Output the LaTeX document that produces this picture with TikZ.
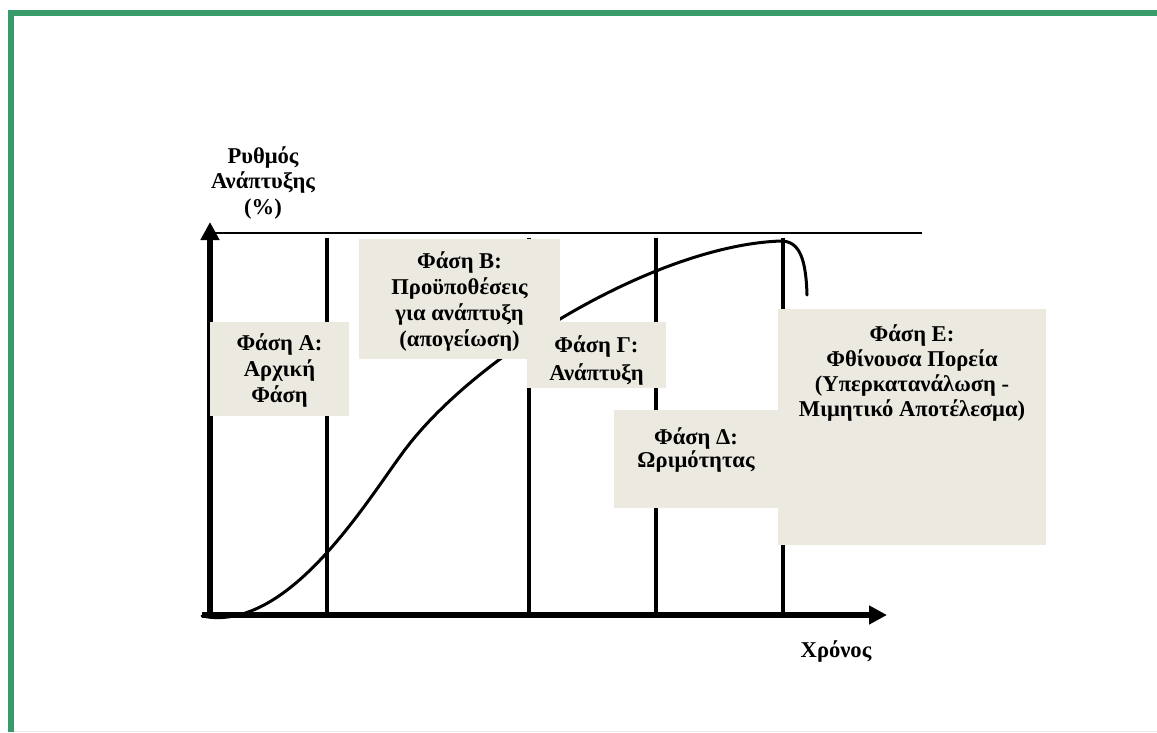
\documentclass[tikz,border=0pt]{standalone}
\usepackage{fontspec}
\setmainfont{Liberation Serif}
\usetikzlibrary{arrows.meta}
\definecolor{framegreen}{RGB}{58,155,106}
\definecolor{boxfill}{RGB}{236,234,224}
\tikzset{
  frameline/.style={framegreen, line width=6pt},
  axisline/.style={black, line width=5.5pt, -{Triangle[length=18pt,width=18pt]}},
  phaseline/.style={black, line width=3.2pt},
  curveline/.style={black, line width=3pt, line cap=round},
  phasebox/.style={fill=boxfill, draw=none, inner sep=0pt, outer sep=0pt, anchor=north west},
  txt/.style={inner sep=0pt, anchor=base, font=\bfseries\fontsize{22.6}{#1}\selectfont},
  txt/.default=26
}
\begin{document}
\begin{tikzpicture}[x=1pt,y=-1pt]
\useasboundingbox (0,0) rectangle (1157,732);
% frame
\coordinate (fTL) at (8,13);
\coordinate (fTR) at (1157,13);
\coordinate (fL1) at (11,10);
\coordinate (fL2) at (11,732);
\draw[frameline] (fTL) -- (fTR);
\draw[frameline] (fL1) -- (fL2);
\coordinate (bL) at (14,731);
\coordinate (bR) at (1157,731);
\draw[black!8, line width=1pt] (bL) -- (bR);
% top thin line
\coordinate (tl1) at (213,233);
\coordinate (tl2) at (922,233);
\draw[black, line width=1.5pt] (tl1) -- (tl2);
% phase lines
\foreach \x/\n in {327/a,529/b,656/c,783/d}{
  \coordinate (v\n top) at (\x,238);
  \coordinate (v\n bot) at (\x,615);
  \draw[phaseline] (v\n top) -- (v\n bot);
}
% curve
\coordinate (c0) at (202,616);
\coordinate (c1) at (407,447);
\coordinate (c2) at (781,241);
\coordinate (c3) at (807,295);
\draw[curveline] (c0) .. controls (290,634) and (370,495) .. (c1)
  .. controls (481,351) and (660,245) .. (c2)
  .. controls (800,241) and (806,260) .. (c3);
% axes
\coordinate (oy) at (210,617);
\coordinate (ty) at (210,222);
\coordinate (ox) at (202,615);
\coordinate (tx) at (887,615);
\draw[axisline] (oy) -- (ty);
\draw[axisline] (ox) -- (tx);
% boxes
\node[phasebox, minimum width=139pt, minimum height=94pt] (boxA) at (210,322) {};
\node[phasebox, minimum width=201pt, minimum height=120pt] (boxB) at (359,239) {};
\node[phasebox, minimum width=139pt, minimum height=66pt] (boxG) at (527,322) {};
\node[phasebox, minimum width=164pt, minimum height=98pt] (boxD) at (614,410) {};
\node[phasebox, minimum width=268pt, minimum height=236pt] (boxE) at (778,309) {};
% texts
\node[txt] (tA) at (279.5,350) {\parbox[t]{139pt}{\centering Φάση Α:\\ Αρχική\\ Φάση}};
\node[txt] (tB) at (459.5,268) {\parbox[t]{201pt}{\centering Φάση Β:\\ Προϋποθέσεις\\ για ανάπτυξη\\ (απογείωση)}};
\node[txt=28] (tG) at (596.5,352) {\parbox[t]{139pt}{\centering Φάση Γ:\\ Ανάπτυξη}};
\node[txt=23] (tD) at (696,444) {\parbox[t]{164pt}{\centering Φάση Δ:\\ Ωριμότητας}};
\node[txt=25] (tE) at (912,341) {\parbox[t]{268pt}{\centering Φάση Ε:\\ Φθίνουσα Πορεία\\ (Υπερκατανάλωση -\\ Μιμητικό Αποτέλεσμα)}};
\node[txt=25.5] (ylab) at (263,163) {\parbox[t]{150pt}{\centering Ρυθμός\\ Ανάπτυξης\\ (\%)}};
\node[txt] (xlab) at (836,657) {Χρόνος};
\end{tikzpicture}
\end{document}
